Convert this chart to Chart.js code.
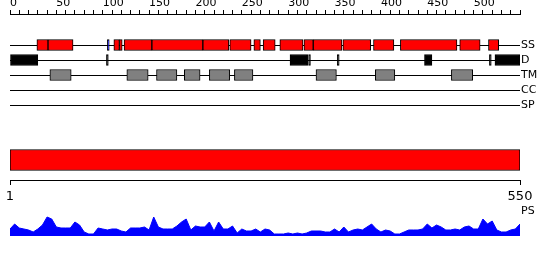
<!DOCTYPE html>
<html>
<head>
<meta charset="utf-8">
<script src="https://cdn.jsdelivr.net/npm/chart.js@4"></script>
<style>
    body { margin: 0; background: #fff; }
    #wrap { position: relative; width: 550px; height: 260px; }
    canvas { position: absolute; left: 0; }
    #grafico1 { top: 0; }
    #grafico2 { top: 140px; }
    #grafico3 { top: 200px; }
</style>
</head>
<body>
<div id="wrap">
    <canvas id="grafico1" width="550" height="114"></canvas>
    <canvas id="grafico2" width="550" height="62"></canvas>
    <canvas id="grafico3" width="550" height="40"></canvas>
</div>
<script>
const seqLength = 550;
const rowNames = ['SS', 'D', 'TM', 'CC', 'SP'];

// [start, end] residue ranges per track
const ssHelix = [[29, 41], [41, 68], [112, 118], [118, 121], [123, 153], [153, 208], [208, 236],
    [237, 260], [263, 270], [273, 286], [291, 316], [317, 327], [327, 358], [359, 389],
    [392, 414], [421, 482], [485, 507], [516, 527]];
const ssStrand = [[105, 107]];
const disorder = [[0, 30], [104, 106], [302, 321], [322, 324], [353, 355], [447, 455], [517, 519], [523, 550]];
const transmem = [[43, 66], [126, 149], [158, 180], [188, 205], [215, 237], [242, 262], [330, 352], [394, 415], [476, 499]];
const coiledCoil = [];
const signalPep = [];

// PS score, one value every 5 residues
const psStep = 5;
const psScore = [0.28, 0.48, 0.32, 0.28, 0.24, 0.16, 0.28, 0.44, 0.76, 0.68,
    0.36, 0.32, 0.32, 0.32, 0.56, 0.44, 0.16, 0.08, 0.08, 0.32,
    0.28, 0.24, 0.28, 0.28, 0.2, 0.16, 0.32, 0.32, 0.32, 0.36,
    0.24, 0.76, 0.36, 0.28, 0.28, 0.28, 0.4, 0.56, 0.68, 0.24,
    0.4, 0.36, 0.36, 0.56, 0.2, 0.56, 0.28, 0.28, 0.4, 0.12,
    0.28, 0.2, 0.2, 0.28, 0.16, 0.28, 0.24, 0.08, 0.08, 0.08,
    0.12, 0.08, 0.12, 0.08, 0.12, 0.2, 0.2, 0.2, 0.16, 0.16,
    0.28, 0.16, 0.36, 0.16, 0.24, 0.28, 0.24, 0.36, 0.48, 0.28,
    0.16, 0.24, 0.2, 0.08, 0.08, 0.16, 0.24, 0.24, 0.24, 0.28,
    0.48, 0.32, 0.44, 0.36, 0.24, 0.24, 0.28, 0.24, 0.36, 0.4,
    0.28, 0.28, 0.68, 0.48, 0.6, 0.24, 0.16, 0.16, 0.24, 0.28, 0.48];

Chart.defaults.font.family = 'DejaVu Sans';
Chart.defaults.color = '#000';

window.onload = function () {
    featureChart();
    sequenceBar();
    psChart();
}

function rowData(ranges, row) {
    return ranges.map(r => ({ x: r, y: row }));
}

// fixed width for the right label axis, no extra padding from its labels
function sideAxisFit(s) {
    s.width = 30;
    s.paddingTop = 0;
    s.paddingBottom = 0;
}

function featureChart() {
    const ctx = document.getElementById('grafico1').getContext('2d');
    new Chart(ctx, {
        type: 'bar',
        data: {
            datasets: [
                { data: rowData(ssHelix, 1), backgroundColor: '#ff0000' },
                { data: rowData(ssStrand, 1), backgroundColor: '#0000ff' },
                { data: rowData(disorder, 2), backgroundColor: '#000000' },
                { data: rowData(transmem, 3), backgroundColor: '#808080' },
                { data: rowData(coiledCoil, 4), backgroundColor: '#ffff00' },
                { data: rowData(signalPep, 5), backgroundColor: '#00ff00' }
            ]
        },
        options: {
            indexAxis: 'y',
            responsive: false,
            animation: false,
            datasets: {
                bar: {
                    grouped: false,
                    barThickness: 11,
                    borderColor: '#000',
                    borderWidth: 1,
                    borderSkipped: false
                }
            },
            plugins: {
                legend: { display: false },
                tooltip: { enabled: false }
            },
            layout: { padding: { left: 10, right: 0, top: 0, bottom: 0 } },
            scales: {
                x: {
                    type: 'linear',
                    position: 'top',
                    min: 0,
                    max: seqLength,
                    afterFit: s => { s.height = 14; s.paddingLeft = 0; s.paddingRight = 0; },
                    ticks: {
                        stepSize: 10,
                        autoSkip: false,
                        maxRotation: 0,
                        align: 'start',
                        padding: 0,
                        font: { size: 11 },
                        callback: v => (v % 50 === 0 && v < seqLength) ? v : ''
                    },
                    grid: { drawOnChartArea: false, tickLength: 4, tickColor: '#000' },
                    border: { color: '#000' }
                },
                y: {
                    type: 'linear',
                    position: 'right',
                    reverse: true,
                    offset: false,
                    min: -1.0667,
                    max: 5.6,
                    afterBuildTicks: s => { s.ticks = rowNames.map((n, i) => ({ value: i + 1 })); },
                    afterFit: sideAxisFit,
                    ticks: {
                        padding: 1,
                        font: { size: 11 },
                        callback: v => rowNames[v - 1]
                    },
                    grid: { color: '#000', drawTicks: false, offset: false },
                    border: { display: false }
                }
            }
        }
    });
}

function sequenceBar() {
    const ctx = document.getElementById('grafico2').getContext('2d');
    new Chart(ctx, {
        type: 'bar',
        data: {
            labels: ['seq'],
            datasets: [{
                data: [[1, seqLength]],
                backgroundColor: '#ff0000',
                borderColor: '#000',
                borderWidth: 1,
                borderSkipped: false,
                barThickness: 21
            }]
        },
        options: {
            indexAxis: 'y',
            responsive: false,
            animation: false,
            plugins: {
                legend: { display: false },
                tooltip: { enabled: false }
            },
            layout: { padding: { left: 10, right: 30, top: 0, bottom: 0 } },
            scales: {
                x: {
                    type: 'linear',
                    min: 1,
                    max: seqLength,
                    afterBuildTicks: s => { s.ticks = [{ value: 1 }, { value: seqLength }]; },
                    afterFit: s => { s.height = 22; },
                    ticks: { autoSkip: false, maxRotation: 0, padding: 4, font: { size: 13 } },
                    grid: { drawOnChartArea: false, tickLength: 5, tickColor: '#000' },
                    border: { color: '#000' }
                },
                y: { display: false }
            }
        }
    });
}

function psChart() {
    const ctx = document.getElementById('grafico3').getContext('2d');
    const points = psScore.map((v, i) => ({ x: i * psStep, y: v }));
    new Chart(ctx, {
        type: 'line',
        data: {
            datasets: [{
                data: points,
                borderColor: '#0000ff',
                backgroundColor: '#0000ff',
                borderWidth: 1,
                pointRadius: 0,
                tension: 0,
                fill: 'origin'
            }]
        },
        options: {
            responsive: false,
            animation: false,
            plugins: {
                legend: { display: false },
                tooltip: { enabled: false }
            },
            layout: { padding: { left: 10, right: 0, top: 11, bottom: 4 } },
            scales: {
                x: { type: 'linear', min: 0, max: seqLength, display: false },
                y: {
                    min: 0,
                    max: 1,
                    position: 'right',
                    afterBuildTicks: s => { s.ticks = [{ value: 1 }]; },
                    afterFit: sideAxisFit,
                    ticks: { padding: 1, font: { size: 11 }, callback: () => 'PS' },
                    grid: { display: false, drawTicks: false },
                    border: { display: false }
                }
            }
        }
    });
}
</script>
</body>
</html>
